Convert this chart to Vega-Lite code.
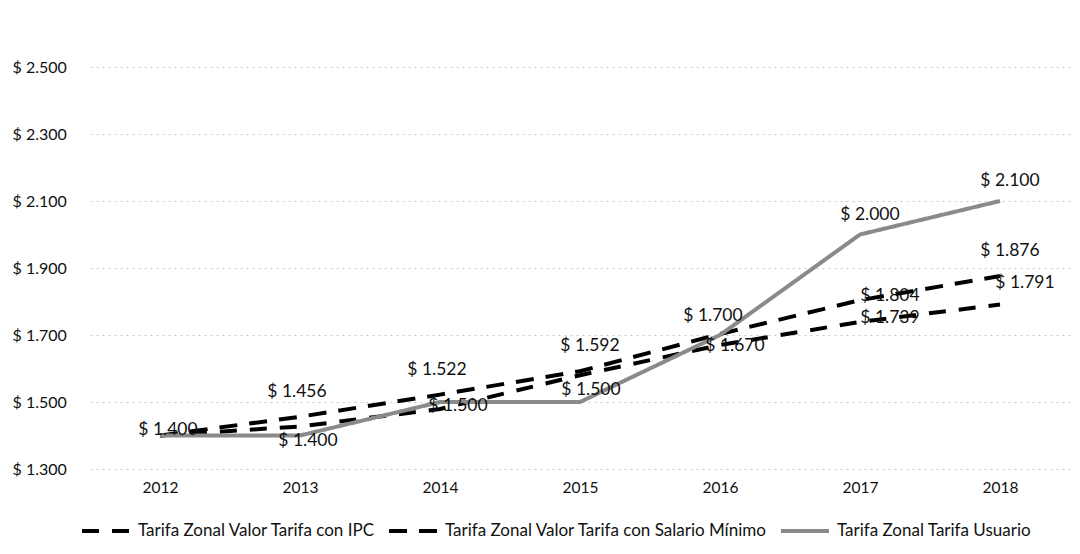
{
  "$schema": "https://vega.github.io/schema/vega-lite/v6.json",
  "width": 980,
  "height": 402,
  "autosize": {"type": "none"},
  "padding": {"left": 90, "top": 67, "right": 10, "bottom": 85},
  "background": "white",
  "config": {
    "locale": {"number": {"decimal": ",", "thousands": ".", "grouping": [3], "currency": ["$ ", ""]}},
    "view": {"stroke": null},
    "font": "Lato",
    "text": {"font": "Lato", "fontSize": 17.5, "color": "#111"}
  },
  "data": {
    "values": [
      {"year": "2012", "series": "Tarifa Zonal Valor Tarifa con IPC", "value": 1400},
      {"year": "2013", "series": "Tarifa Zonal Valor Tarifa con IPC", "value": 1427},
      {"year": "2014", "series": "Tarifa Zonal Valor Tarifa con IPC", "value": 1479},
      {"year": "2015", "series": "Tarifa Zonal Valor Tarifa con IPC", "value": 1580},
      {"year": "2016", "series": "Tarifa Zonal Valor Tarifa con IPC", "value": 1670},
      {"year": "2017", "series": "Tarifa Zonal Valor Tarifa con IPC", "value": 1739},
      {"year": "2018", "series": "Tarifa Zonal Valor Tarifa con IPC", "value": 1791},
      {"year": "2012", "series": "Tarifa Zonal Valor Tarifa con Salario Mínimo", "value": 1400},
      {"year": "2013", "series": "Tarifa Zonal Valor Tarifa con Salario Mínimo", "value": 1456},
      {"year": "2014", "series": "Tarifa Zonal Valor Tarifa con Salario Mínimo", "value": 1522},
      {"year": "2015", "series": "Tarifa Zonal Valor Tarifa con Salario Mínimo", "value": 1592},
      {"year": "2016", "series": "Tarifa Zonal Valor Tarifa con Salario Mínimo", "value": 1703},
      {"year": "2017", "series": "Tarifa Zonal Valor Tarifa con Salario Mínimo", "value": 1804},
      {"year": "2018", "series": "Tarifa Zonal Valor Tarifa con Salario Mínimo", "value": 1876},
      {"year": "2012", "series": "Tarifa Zonal Tarifa Usuario", "value": 1400},
      {"year": "2013", "series": "Tarifa Zonal Tarifa Usuario", "value": 1400},
      {"year": "2014", "series": "Tarifa Zonal Tarifa Usuario", "value": 1500},
      {"year": "2015", "series": "Tarifa Zonal Tarifa Usuario", "value": 1500},
      {"year": "2016", "series": "Tarifa Zonal Tarifa Usuario", "value": 1700},
      {"year": "2017", "series": "Tarifa Zonal Tarifa Usuario", "value": 2000},
      {"year": "2018", "series": "Tarifa Zonal Tarifa Usuario", "value": 2100}
    ]
  },
  "encoding": {
    "x": {
      "field": "year", "type": "ordinal",
      "scale": {"type": "point", "padding": 0.5},
      "axis": {"title": null, "labelAngle": 0, "domain": false, "ticks": false, "labelPadding": 11, "labelFont": "Lato", "labelFontSize": 15.5, "labelColor": "#111", "grid": false}
    },
    "y": {
      "field": "value", "type": "quantitative",
      "scale": {"domain": [1300, 2500], "nice": false, "zero": false},
      "axis": {"title": null, "values": [1300, 1500, 1700, 1900, 2100, 2300, 2500], "format": "$,.0f", "domain": false, "ticks": false, "labelAlign": "left", "labelPadding": 78, "labelFont": "Lato", "labelFontSize": 16, "labelColor": "#111", "gridColor": "#c8c8c8", "gridDash": [2, 4], "gridWidth": 1}
    },
    "text": {"field": "value", "type": "quantitative", "format": "$,.0f"}
  },
  "layer": [
    {
      "mark": {"type": "line", "strokeCap": "butt"},
      "encoding": {
        "text": null,
        "color": {
          "field": "series", "type": "nominal",
          "scale": {"domain": ["Tarifa Zonal Valor Tarifa con IPC", "Tarifa Zonal Valor Tarifa con Salario Mínimo", "Tarifa Zonal Tarifa Usuario"], "range": ["#000000", "#000000", "#8a8a8a"]},
          "legend": {"title": null, "orient": "none", "legendX": -10, "legendY": 438, "direction": "horizontal", "symbolType": "stroke", "symbolSize": 2300, "labelFont": "Lato", "labelFontSize": 17, "labelColor": "#111", "labelLimit": 500, "labelOffset": 6, "columnPadding": 5, "padding": 0}
        },
        "strokeDash": {
          "field": "series", "type": "nominal",
          "scale": {"domain": ["Tarifa Zonal Valor Tarifa con IPC", "Tarifa Zonal Valor Tarifa con Salario Mínimo", "Tarifa Zonal Tarifa Usuario"], "range": [[17, 13], [18, 12], [1, 0]]},
          "legend": {"title": null, "orient": "none", "legendX": -10, "legendY": 438, "direction": "horizontal", "symbolType": "stroke", "symbolSize": 2300, "labelFont": "Lato", "labelFontSize": 17, "labelColor": "#111", "labelLimit": 500, "labelOffset": 6, "columnPadding": 5, "padding": 0}
        },
        "strokeWidth": {
          "field": "series", "type": "nominal",
          "scale": {"domain": ["Tarifa Zonal Valor Tarifa con IPC", "Tarifa Zonal Valor Tarifa con Salario Mínimo", "Tarifa Zonal Tarifa Usuario"], "range": [4, 4, 1.4]},
          "legend": {"title": null, "orient": "none", "legendX": -10, "legendY": 438, "direction": "horizontal", "symbolType": "stroke", "symbolSize": 2300, "labelFont": "Lato", "labelFontSize": 17, "labelColor": "#111", "labelLimit": 500, "labelOffset": 6, "columnPadding": 5, "padding": 0}
        }
      }
    },
    {
      "transform": [{"filter": "datum.series == 'Tarifa Zonal Tarifa Usuario' && datum.year == '2012'"}],
      "mark": {"type": "text", "dx": 8, "dy": -6}
    },
    {
      "transform": [{"filter": "datum.series == 'Tarifa Zonal Tarifa Usuario' && datum.year == '2013'"}],
      "mark": {"type": "text", "dx": 8, "dy": 5}
    },
    {
      "transform": [{"filter": "datum.series == 'Tarifa Zonal Tarifa Usuario' && datum.year == '2014'"}],
      "mark": {"type": "text", "dx": 18, "dy": 4}
    },
    {
      "transform": [{"filter": "datum.series == 'Tarifa Zonal Tarifa Usuario' && datum.year == '2015'"}],
      "mark": {"type": "text", "dx": 11, "dy": -12}
    },
    {
      "transform": [{"filter": "datum.series == 'Tarifa Zonal Tarifa Usuario' && datum.year == '2016'"}],
      "mark": {"type": "text", "dx": -7, "dy": -19}
    },
    {
      "transform": [{"filter": "datum.series == 'Tarifa Zonal Tarifa Usuario' && (datum.year == '2017' || datum.year == '2018')"}],
      "mark": {"type": "text", "dx": 10, "dy": -20}
    },
    {
      "transform": [{"filter": "datum.series == 'Tarifa Zonal Valor Tarifa con Salario Mínimo' && (datum.year == '2013' || datum.year == '2014')"}],
      "mark": {"type": "text", "dx": -3, "dy": -25}
    },
    {
      "transform": [{"filter": "datum.series == 'Tarifa Zonal Valor Tarifa con Salario Mínimo' && (datum.year == '2015' || datum.year == '2018')"}],
      "mark": {"type": "text", "dx": 10, "dy": -25}
    },
    {
      "transform": [{"filter": "(datum.series == 'Tarifa Zonal Valor Tarifa con Salario Mínimo' || datum.series == 'Tarifa Zonal Valor Tarifa con IPC') && datum.year == '2017'"}],
      "mark": {"type": "text", "dx": 30, "dy": -4}
    },
    {
      "transform": [{"filter": "datum.series == 'Tarifa Zonal Valor Tarifa con IPC' && datum.year == '2016'"}],
      "mark": {"type": "text", "dx": 15, "dy": 1}
    },
    {
      "transform": [{"filter": "datum.series == 'Tarifa Zonal Valor Tarifa con IPC' && datum.year == '2018'"}],
      "mark": {"type": "text", "dx": 25, "dy": -22}
    }
  ]
}
